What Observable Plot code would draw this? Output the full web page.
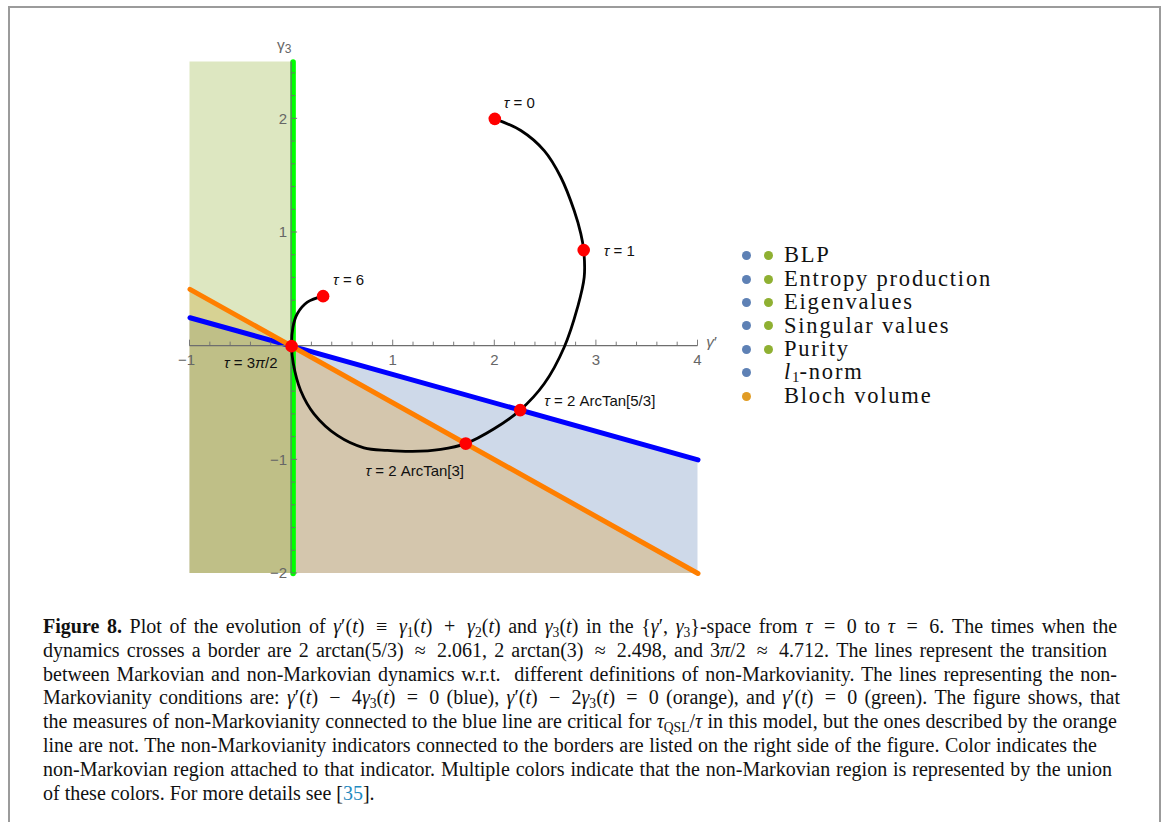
<!DOCTYPE html>
<html>
<head>
<meta charset="utf-8">
<script src="https://cdn.jsdelivr.net/npm/d3@7"></script>
<script src="https://cdn.jsdelivr.net/npm/@observablehq/plot@0.6"></script>
<style>
  html, body { margin: 0; padding: 0; background: #fff; }
  body { width: 1168px; height: 822px; overflow: hidden; position: relative; font-family: "Liberation Serif", "Times New Roman", serif; color: #111; }
  #frame { position: absolute; left: 8px; top: 6px; width: 1153px; height: 860px; border: 2px solid #9b9b9b; box-sizing: border-box; }
  #chart { position: absolute; left: 0; top: 0; }
  #legend { position: absolute; left: 740px; top: 244px; font-size: 22.5px; letter-spacing: 1.8px; }
  #legend .row { height: 23.4px; display: flex; align-items: center; white-space: nowrap; }
  #legend .dot { width: 9px; height: 9px; border-radius: 50%; margin-left: 2px; margin-right: 11px; flex: none; }
  #legend .gap { width: 9px; height: 9px; margin-left: 2px; margin-right: 11px; flex: none; }
  #legend .lbl { line-height: 1; }
  #legend .sub1 { font-size: 0.66em; line-height: 0; position: relative; top: 0.2em; letter-spacing: 0; }
  #caption { position: absolute; left: 43px; top: 615px; font-size: 20px; line-height: 23.8px; }
  #caption .ln { white-space: nowrap; text-align: justify; text-align-last: justify; }
  #caption .last { text-align: left; text-align-last: left; }
  #caption sub { font-size: 0.68em; vertical-align: -0.3em; line-height: 0; }
  #caption .op { padding: 0 0.2em; }
  #caption .ref { color: #1f8ac0; }
</style>
</head>
<body>
<div id="chart"></div>
<div id="legend"></div>
<div id="caption">
  <div class="ln" style="width:1074px"><b>Figure 8.</b> Plot of the evolution of <i>γ</i>′(<i>t</i>) <span class="op">≡</span> <i>γ</i><sub>1</sub>(<i>t</i>) <span class="op">+</span> <i>γ</i><sub>2</sub>(<i>t</i>) and <i>γ</i><sub>3</sub>(<i>t</i>) in the {<i>γ</i>′, <i>γ</i><sub>3</sub>}-space from <i>τ</i> <span class="op">=</span> 0 to <i>τ</i> <span class="op">=</span> 6. The times when the</div>
  <div class="ln" style="width:1064px">dynamics crosses a border are 2 arctan(5/3) <span class="op">≈</span> 2.061, 2 arctan(3) <span class="op">≈</span> 2.498, and 3<i>π</i>/2 <span class="op">≈</span> 4.712. The lines represent the transition</div>
  <div class="ln" style="width:1074px">between Markovian and non-Markovian dynamics w.r.t.&nbsp; different definitions of non-Markovianity. The lines representing the non-</div>
  <div class="ln" style="width:1077px">Markovianity conditions are: <i>γ</i>′(<i>t</i>) <span class="op">−</span> 4<i>γ</i><sub>3</sub>(<i>t</i>) <span class="op">=</span> 0 (blue), <i>γ</i>′(<i>t</i>) <span class="op">−</span> 2<i>γ</i><sub>3</sub>(<i>t</i>) <span class="op">=</span> 0 (orange), and <i>γ</i>′(<i>t</i>) <span class="op">=</span> 0 (green). The figure shows, that</div>
  <div class="ln" style="width:1074px">the measures of non-Markovianity connected to the blue line are critical for <i>τ</i><sub>QSL</sub>/<i>τ</i> in this model, but the ones described by the orange</div>
  <div class="ln" style="width:1054px">line are not. The non-Markovianity indicators connected to the borders are listed on the right side of the figure. Color indicates the</div>
  <div class="ln" style="width:1069px">non-Markovian region attached to that indicator. Multiple colors indicate that the non-Markovian region is represented by the union</div>
  <div class="ln last">of these colors. For more details see [<span class="ref">35</span>].</div>
</div>
<div id="frame"></div>
<script>
// ---- data ----------------------------------------------------------------
const xDomain = [-1, 4];
const yDomain = [-2, 2.5];

// straight borders between Markovian / non-Markovian regions
const borderX = [-1, 4];
const blueBorderY = [0.25, -1];    // γ' − 4γ3 = 0
const orangeBorderY = [0.5, -2];   // γ' − 2γ3 = 0
const greenBorderX = [0, 0];       // γ' = 0
const greenBorderY = [-2, 2.5];

// trajectory (γ', γ3) from τ = 0 to τ = 6
const curveX = [2.0, 2.256, 2.486, 2.65, 2.781, 2.847, 2.875, 2.88, 2.815, 2.683, 2.486, 2.25, 1.993, 1.714, 1.468, 1.189, 0.943, 0.712, 0.45, 0.22, 0.089, 0.017, 0, 0.013, 0.056, 0.155, 0.31];
const curveY = [2.0, 1.897, 1.72, 1.486, 1.193, 0.988, 0.845, 0.607, 0.343, -0.009, -0.331, -0.5625, -0.727, -0.857, -0.908, -0.926, -0.917, -0.894, -0.785, -0.595, -0.39, -0.155, 0, 0.167, 0.285, 0.387, 0.44];

// marked instants
const markTau = ["0", "1", "2 ArcTan[5/3]", "2 ArcTan[3]", "3π/2", "6"];
const markX = [2.0, 2.875, 2.25, 1.714, 0, 0.31];
const markY = [2.0, 0.845, -0.5625, -0.857, 0, 0.44];

// axis ticks
const xTickValues = [-1, 1, 2, 3, 4];
const xTickLabels = ["−1", "1", "2", "3", "4"];
const yTickValues = [-2, -1, 1, 2];
const yTickLabels = ["−2", "−1", "1", "2"];

// legend
const legendNames = ["BLP", "Entropy production", "Eigenvalues", "Singular values", "Purity", "l1-norm", "Bloch volume"];
const legendBlue = [true, true, true, true, true, true, false];
const legendGreen = [true, true, true, true, true, false, false];
const legendOrange = [false, false, false, false, false, false, true];

// ---- styling -------------------------------------------------------------
const fillBlue = "#5e81b5", fillGreen = "#8fb032", fillOrange = "#e19c24";
const axisColor = "#6e6e6e", tickTextColor = "#666";
const sans = "'Liberation Sans', Arial, sans-serif";

const curve = curveX.map((x, i) => ({x, y: curveY[i]}));
const marksData = markTau.map((tau, i) => ({label: `τ = ${tau}`, x: markX[i], y: markY[i]}));
const blueBorder = borderX.map((x, i) => ({x, y: blueBorderY[i]}));
const orangeBorder = borderX.map((x, i) => ({x, y: orangeBorderY[i]}));
const greenBorder = greenBorderX.map((x, i) => ({x, y: greenBorderY[i]}));
const greenRegion = [{x1: xDomain[0], x2: 0, y1: yDomain[0], y2: yDomain[1]}];

// Mathematica-like axes crossing at the origin
function axes(index, scales) {
  const {x, y} = scales;
  const g = d3.create("svg:g").attr("font-family", sans).attr("font-size", 15).attr("fill", tickTextColor);
  const x0 = x(0), y0 = y(0);
  g.append("line").attr("x1", x(xDomain[0])).attr("x2", x(xDomain[1])).attr("y1", y0).attr("y2", y0)
    .attr("stroke", axisColor).attr("stroke-width", 1.1);
  g.append("line").attr("x1", x0).attr("x2", x0).attr("y1", y(yDomain[0])).attr("y2", y(yDomain[1]))
    .attr("stroke", axisColor).attr("stroke-width", 1.1);
  const xMinor = d3.range(-5, 21).map(v => v / 5);
  for (const v of xMinor) {
    const major = Number.isInteger(v);
    g.append("line").attr("x1", x(v)).attr("x2", x(v)).attr("y1", y0).attr("y2", y0 - (major ? 6 : 4))
      .attr("stroke", axisColor).attr("stroke-width", 0.9);
  }
  const yMinor = d3.range(-10, 13).map(v => v / 5);
  for (const v of yMinor) {
    const major = Number.isInteger(v);
    g.append("line").attr("y1", y(v)).attr("y2", y(v)).attr("x1", x0).attr("x2", x0 + (major ? 6 : 4))
      .attr("stroke", axisColor).attr("stroke-width", 0.9);
  }
  xTickValues.forEach((v, i) => {
    g.append("text").attr("x", x(v) - (v < 0 ? 3 : 0)).attr("y", y0 + 14).attr("dy", "0.35em")
      .attr("text-anchor", "middle").text(xTickLabels[i]);
  });
  yTickValues.forEach((v, i) => {
    g.append("text").attr("x", x0 - 4).attr("y", y(v)).attr("dy", "0.35em")
      .attr("text-anchor", "end").text(yTickLabels[i]);
  });
  // axis names
  const gx = g.append("text").attr("x", x(xDomain[1]) + 14).attr("y", y0).attr("dy", "0.1em").attr("font-size", 15.5);
  gx.append("tspan").attr("font-style", "italic").text("γ");
  gx.append("tspan").text("′");
  const gy = g.append("text").attr("x", x0 - 7).attr("y", y(yDomain[1]) - 12).attr("font-size", 15.5);
  gy.append("tspan").text("γ");
  gy.append("tspan").attr("font-size", 12).attr("dy", "0.25em").text("3");
  return g.node();
}

// label placement per instant
const labelPlacement = {
  "0": {dx: 9, dy: -16, textAnchor: "start"},
  "1": {dx: 20, dy: 1, textAnchor: "start"},
  "2 ArcTan[5/3]": {dx: 24, dy: -9, textAnchor: "start"},
  "2 ArcTan[3]": {dx: -51, dy: 28, textAnchor: "middle"},
  "3π/2": {dx: -14, dy: 17, textAnchor: "end"},
  "6": {dx: 10, dy: -16, textAnchor: "start"}
};

const labelMarks = markTau.map(tau => Plot.text(marksData.filter(d => d.label === `τ = ${tau}`), {
  x: "x", y: "y", text: "label", fontSize: 15, fontFamily: sans, fill: "#111",
  ...labelPlacement[tau]
}));

const chart = Plot.plot({
  width: 740,
  height: 600,
  marginLeft: 189.5,
  marginRight: 42.5,
  marginTop: 61.5,
  marginBottom: 27,
  style: {background: "none", maxWidth: "none", overflow: "visible"},
  x: {domain: xDomain, axis: null},
  y: {domain: yDomain, axis: null},
  marks: [
    Plot.areaY(blueBorder, {x: "x", y1: yDomain[0], y2: "y", fill: fillBlue, fillOpacity: 0.3}),
    Plot.areaY(orangeBorder, {x: "x", y1: yDomain[0], y2: "y", fill: fillOrange, fillOpacity: 0.3}),
    Plot.rect(greenRegion, {x1: "x1", x2: "x2", y1: "y1", y2: "y2", fill: fillGreen, fillOpacity: 0.3}),
    Plot.line(blueBorder, {x: "x", y: "y", stroke: "#0000ff", strokeWidth: 5}),
    Plot.line(orangeBorder, {x: "x", y: "y", stroke: "#ff7f00", strokeWidth: 5}),
    Plot.line(greenBorder, {x: "x", y: "y", stroke: "#00ff00", strokeWidth: 5.5, dx: 1.5}),
    axes,
    Plot.line(curve, {x: "x", y: "y", stroke: "#000", strokeWidth: 2.8, curve: "catmull-rom"}),
    Plot.dot(marksData, {x: "x", y: "y", r: 6.3, fill: "#ff0000"}),
    ...labelMarks
  ]
});

// italic τ and π inside the annotation labels
d3.select(chart).selectAll("text").each(function () {
  if (this.querySelector("tspan")) return;
  const s = this.textContent;
  if (!/[τπ]/.test(s)) return;
  const el = d3.select(this);
  el.text(null);
  for (const part of s.split(/([τπ])/)) {
    if (part) el.append("tspan").attr("font-style", /[τπ]/.test(part) ? "italic" : null).text(part);
  }
});
document.getElementById("chart").appendChild(chart);

// legend rows
const legend = d3.select("#legend");
legendNames.forEach((name, i) => {
  const row = legend.append("div").attr("class", "row");
  if (legendBlue[i]) row.append("span").attr("class", "dot").style("background", fillBlue);
  else if (legendOrange[i]) row.append("span").attr("class", "dot").style("background", fillOrange);
  else row.append("span").attr("class", "gap");
  if (legendGreen[i]) row.append("span").attr("class", "dot").style("background", fillGreen);
  else row.append("span").attr("class", "gap");
  const lbl = row.append("span").attr("class", "lbl");
  if (name === "l1-norm") {
    lbl.append("i").text("l");
    lbl.append("span").attr("class", "sub1").text("1");
    lbl.append("span").text("-norm");
  } else {
    lbl.text(name);
  }
});
</script>
</body>
</html>
